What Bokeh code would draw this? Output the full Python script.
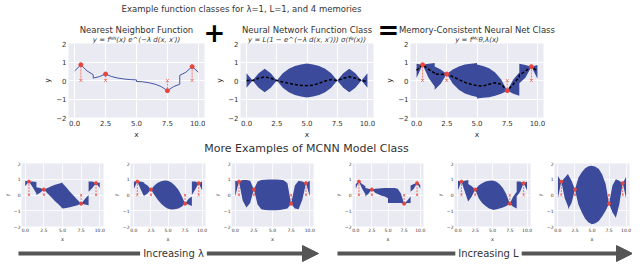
from bokeh.plotting import figure
from bokeh.models import Range1d, FixedTicker, Label, Arrow, NormalHead
from bokeh.layouts import row, column
from bokeh.embed import file_html
from bokeh.resources import INLINE

# ---------------- data ----------------
XS = [0, 0.5, 1, 1.5, 1.5, 2, 2.5, 3, 3.5, 4, 4.5, 5, 5, 5.5, 6, 6.5, 7, 7.5, 8, 8.5, 8.5, 9, 9.5, 10]

MEM_X = [0.5, 2.5, 7.5, 9.5]
MEM_Y = [0.85, 0.35, -0.55, 0.75]
MEM_BASE = [0, 0, 0, 0]

X_TICKS = [0, 2.5, 5, 7.5, 10]
X_TICK_LABELS = ["0.0", "2.5", "5.0", "7.5", "10.0"]
Y_TICKS = [-2, -1, 0, 1, 2]
Y_TICK_LABELS = ["\u22122", "\u22121", "0", "1", "2"]

# top row
NN_Y = [0.52, 0.85, 0.52, 0.31, 0.13, 0.21, 0.35, 0.21, 0.13, 0.08, 0.05, 0.03,
        -0.05, -0.07, -0.12, -0.2, -0.33, -0.55, -0.33, -0.2, 0.28, 0.45, 0.75, 0.45]

F2_HI = [0.39, 0, 0.39, 0.63, 0.63, 0.39, 0, 0.39, 0.63, 0.78, 0.86, 0.92,
         0.92, 0.86, 0.78, 0.63, 0.39, 0, 0.39, 0.63, 0.63, 0.39, 0, 0.39]
F2_LO = [-0.39, 0, -0.39, -0.63, -0.63, -0.39, 0, -0.39, -0.63, -0.78, -0.86, -0.92,
         -0.92, -0.86, -0.78, -0.63, -0.39, 0, -0.39, -0.63, -0.63, -0.39, 0, -0.39]
F2_DASH = [0, 0, 0.12, 0.2, 0.2, 0.12, 0, -0.08, -0.15, -0.22, -0.27, -0.28,
           -0.28, -0.25, -0.15, -0.03, 0.05, 0, 0.12, 0.2, 0.2, 0.12, 0, -0.05]

F3_HI = [0.91, 0.85, 0.91, 0.94, 0.76, 0.6, 0.35, 0.6, 0.76, 0.86, 0.91, 0.95,
         0.87, 0.79, 0.66, 0.43, 0.06, -0.55, 0.06, 0.43, 0.91, 0.84, 0.75, 0.84]
F3_LO = [0.13, 0.85, 0.13, -0.32, -0.5, -0.18, 0.35, -0.18, -0.5, -0.7, -0.81, -0.89,
         -0.97, -0.93, -0.9, -0.83, -0.72, -0.55, -0.72, -0.83, -0.15, 0.15, 0.75, 0.1]
F3_DASH = [0.55, 0.85, 0.6, 0.4, 0.35, 0.33, 0.35, 0.2, 0.05, -0.1, -0.2, -0.28,
           -0.28, -0.3, -0.2, -0.12, -0.2, -0.55, -0.2, 0.2, 0.3, 0.5, 0.75, 0.5]

# bottom row (increasing lambda: B1..B3, increasing L: B4..B6)
B1_HI = [0.9, 0.85, 0.85, 0.82, 0.5, 0.45, 0.35, 0.45, 0.55, 0.65, 0.72, 0.8,
         0.75, 0.5, 0.2, -0.05, -0.3, -0.55, -0.25, 0.0, 0.85, 0.85, 0.75, 0.8]
B1_LO = [0.55, 0.85, 0.5, 0.1, 0.0, 0.15, 0.35, 0.1, -0.15, -0.4, -0.6, -0.85,
         -0.85, -0.82, -0.78, -0.72, -0.65, -0.55, -0.6, -0.65, 0.2, 0.45, 0.75, 0.45]
B2_HI = [0.85, 0.85, 0.85, 0.8, 0.75, 0.6, 0.35, 0.6, 0.78, 0.87, 0.92, 0.9,
         0.9, 0.8, 0.6, 0.35, -0.05, -0.55, -0.25, -0.1, 0.85, 0.85, 0.75, 0.85]
B2_LO = [0.4, 0.85, 0.35, -0.1, -0.05, 0.1, 0.35, 0.0, -0.3, -0.55, -0.75, -0.88,
         -0.88, -0.92, -0.9, -0.85, -0.75, -0.55, -0.6, -0.7, 0.0, 0.35, 0.75, 0.3]
B3_HI = [0.9, 0.85, 0.95, 0.95, 0.95, 0.9, 0.35, 0.85, 0.95, 0.97, 0.98, 0.98,
         0.98, 0.98, 0.97, 0.93, 0.75, -0.55, 0.6, 0.9, 0.9, 0.85, 0.75, 0.9]
B3_LO = [-0.1, 0.85, -0.35, -0.8, -0.8, -0.5, 0.35, -0.6, -0.9, -0.95, -0.97, -0.97,
         -0.97, -0.97, -0.95, -0.9, -0.85, -0.55, -0.85, -0.9, -0.9, -0.3, 0.75, -0.1]
B4_HI = [0.7, 0.85, 0.7, 0.55, 0.45, 0.4, 0.35, 0.4, 0.42, 0.43, 0.45, 0.45,
         0.45, 0.45, 0.45, 0.4, 0.1, -0.55, -0.35, -0.1, 0.6, 0.7, 0.75, 0.65]
B4_LO = [0.4, 0.85, 0.4, 0.05, -0.1, 0.1, 0.35, 0.15, 0.05, -0.05, -0.1, -0.2,
         -0.5, -0.5, -0.5, -0.5, -0.5, -0.55, -0.5, -0.5, 0.2, 0.4, 0.75, 0.4]
B5_HI = [0.9, 0.85, 0.9, 0.95, 0.7, 0.55, 0.35, 0.6, 0.75, 0.85, 0.9, 0.92,
         0.92, 0.85, 0.7, 0.45, 0.05, -0.55, -0.1, 0.2, 0.85, 0.85, 0.75, 0.85]
B5_LO = [0.3, 0.85, 0.2, -0.45, -0.4, -0.1, 0.35, -0.2, -0.5, -0.7, -0.85, -0.92,
         -0.95, -0.92, -0.85, -0.8, -0.7, -0.55, -0.75, -0.85, -0.1, 0.2, 0.75, 0.3]
B6_HI = [1.2, 0.85, 1.1, 1.35, 1.3, 0.9, 0.35, 1.1, 1.45, 1.7, 1.82, 1.85,
         1.85, 1.8, 1.65, 1.3, 0.7, -0.55, 0.6, 1.0, 1.0, 0.9, 0.75, 1.15]
B6_LO = [-0.2, 0.85, -0.2, -0.75, -0.9, -0.5, 0.35, -0.6, -1.1, -1.5, -1.75, -1.85,
         -1.85, -1.8, -1.65, -1.35, -1.0, -0.55, -1.1, -1.45, -1.45, -0.6, 0.75, -0.2]

MAIN_TITLE = "Example function classes for \u03bb=1, L=1, and 4 memories"
TOP_TITLES = ["Nearest Neighbor Function", "Neural Network Function Class",
              "Memory-Consistent Neural Net Class"]
TOP_FORMULAS = ["y = f\u1d3a\u1d3a(x) e^(\u2212\u03bb d(x, x\u2032))",
                "y = L(1 \u2212 e^(\u2212\u03bb d(x, x\u2032))) \u03c3(f\u1d60(x))",
                "y = f\u1d39\u1d9c\u03b8,\u03bb(x)"]
MID_TITLE = "More Examples of MCNN Model Class"
ARROW_TEXTS = ["Increasing \u03bb", "Increasing L"]

# ---------------- style ----------------
FONT = "DejaVu Sans"
BG = "#EAEAF2"
BAND = "#3b4a9a"
LINE_BLUE = "#4455a6"
RED = "#e8453c"
RED_LIGHT = "#f07b70"
TXT = "#333333"
ARROW_C = "#555555"
TOTAL_W = 632


def panel(width, height, mbl, mbr, mbt, mbb, small):
    p = figure(width=width, height=height, x_range=Range1d(-0.5, 10.5), y_range=Range1d(-2, 2),
               output_backend="svg", toolbar_location=None, title=None,
               min_border_left=mbl, min_border_right=mbr, min_border_top=mbt, min_border_bottom=mbb,
               background_fill_color=BG, border_fill_color="white", border_fill_alpha=0,
               outline_line_color=None)
    p.xaxis.ticker = FixedTicker(ticks=X_TICKS)
    p.yaxis.ticker = FixedTicker(ticks=Y_TICKS)
    p.xaxis.major_label_overrides = {t: l for t, l in zip(X_TICKS, X_TICK_LABELS)}
    p.yaxis.major_label_overrides = {t: l for t, l in zip(Y_TICKS, Y_TICK_LABELS)}
    p.xaxis.axis_label = "x"
    p.yaxis.axis_label = "y"
    for ax in p.axis:
        ax.axis_line_color = None
        ax.major_tick_line_color = None
        ax.minor_tick_line_color = None
        ax.major_tick_out = 0
        ax.major_tick_in = 0
        ax.minor_tick_out = 0
        ax.minor_tick_in = 0
        ax.major_label_text_font = FONT
        ax.major_label_text_font_size = "4.5px" if small else "7px"
        ax.major_label_text_color = TXT
        ax.axis_label_text_font = FONT
        ax.axis_label_text_font_size = "5px" if small else "7.5px"
        ax.axis_label_text_font_style = "normal"
        ax.axis_label_text_color = TXT
        ax.major_label_standoff = 1 if small else 2
        ax.axis_label_standoff = 1
    p.xgrid.ticker = FixedTicker(ticks=X_TICKS)
    p.ygrid.ticker = FixedTicker(ticks=Y_TICKS)
    p.grid.grid_line_color = "white"
    p.grid.grid_line_width = 0.8 if small else 1
    return p


def memories(p, small):
    p.segment(x0=MEM_X, y0=MEM_BASE, x1=MEM_X, y1=MEM_Y, line_color=RED_LIGHT,
              line_dash="2 1", line_width=1)
    p.scatter(x=MEM_X, y=MEM_BASE, marker="x", size=3 if small else 4,
              line_color=RED_LIGHT, line_width=1)
    p.scatter(x=MEM_X, y=MEM_Y, marker="circle", size=3 if small else 4,
              fill_color=RED, line_color=RED)


def band(h, **kw):
    p = figure(width=TOTAL_W, height=h, x_range=Range1d(0, TOTAL_W), y_range=Range1d(0, h),
               x_axis_type=None, y_axis_type=None, output_backend="svg", toolbar_location=None,
               min_border=0, outline_line_color=None, background_fill_alpha=0,
               border_fill_alpha=0, **kw)
    return p


def text(p, x, y, s, size, style="normal", color=TXT, **kw):
    p.add_layout(Label(x=x, y=y, text=s, text_font=FONT, text_font_size=size,
                       text_font_style=style, text_color=color, text_align="center",
                       text_baseline="middle", **kw))


# ---------------- header (main title, panel titles, + and =) ----------------
HEAD_H = 47
head = band(HEAD_H)
text(head, 241, HEAD_H - 8.5, MAIN_TITLE, "8.5px")
TITLE_CX = [136, 306.5, 476.5]
for cx, name, formula in zip(TITLE_CX, TOP_TITLES, TOP_FORMULAS):
    text(head, cx, HEAD_H - 29, name, "8.5px")
    text(head, cx, HEAD_H - 39.5, formula, "7px", style="italic")
text(head, 214, HEAD_H - 31, "+", "26px", style="bold", color="black")
text(head, 388, HEAD_H - 29.5, "=", "26px", style="bold", color="black")

# ---------------- top row (pulled up under the header's empty lower strip) ----------------
TOP_H, TOP_T, TOP_B = 101, 3, 22
f1 = panel(205, TOP_H, 68, 1, TOP_T, TOP_B, False)
f1.line(x=XS, y=NN_Y, line_color=LINE_BLUE, line_width=1)
memories(f1, False)

f2 = panel(170, TOP_H, 35, 2, TOP_T, TOP_B, False)
f2.varea(x=XS, y1=F2_LO, y2=F2_HI, fill_color=BAND)
f2.line(x=XS, y=F2_DASH, line_color="black", line_width=1.5, line_dash="3 2")

f3 = panel(257, TOP_H, 35, 89, TOP_T, TOP_B, False)
f3.varea(x=XS, y1=F3_LO, y2=F3_HI, fill_color=BAND)
f3.line(x=XS, y=F3_DASH, line_color="black", line_width=1.5, line_dash="3 2")
memories(f3, False)

top_row = row(f1, f2, f3, margin=(-7, 0, 0, 0))

# ---------------- middle header ----------------
mid = band(14)
text(mid, 306, 7, MID_TITLE, "11px")

# ---------------- bottom row ----------------
BOT_H, BOT_T, BOT_B = 89, 8, 17
bottom_specs = [
    (109, 21, 6, B1_LO, B1_HI),
    (101, 14, 5, B2_LO, B2_HI),
    (121, 14, 18, B3_LO, B3_HI),
    (102, 14, 10, B4_LO, B4_HI),
    (100, 14, 3, B5_LO, B5_HI),
    (99, 14, 3, B6_LO, B6_HI),
]
bots = []
for w, l, r, lo, hi in bottom_specs:
    b = panel(w, BOT_H, l, r, BOT_T, BOT_B, True)
    b.varea(x=XS, y1=lo, y2=hi, fill_color=BAND)
    memories(b, True)
    bots.append(b)

# ---------------- arrows ----------------
arr = band(18)
for xs, xe, tx, txt in [(18, 318, 173, ARROW_TEXTS[0]), (337, TOTAL_W, 488, ARROW_TEXTS[1])]:
    arr.add_layout(Arrow(x_start=xs, y_start=9, x_end=xe, y_end=9, line_width=4,
                         line_color=ARROW_C,
                         end=NormalHead(size=16, fill_color=ARROW_C, line_color=ARROW_C)))
    text(arr, tx, 9, txt, "10px", background_fill_color="white", padding=3)

layout = column(head, top_row, mid, row(*bots), arr)

open("out.html", "w").write(file_html(layout, INLINE))
